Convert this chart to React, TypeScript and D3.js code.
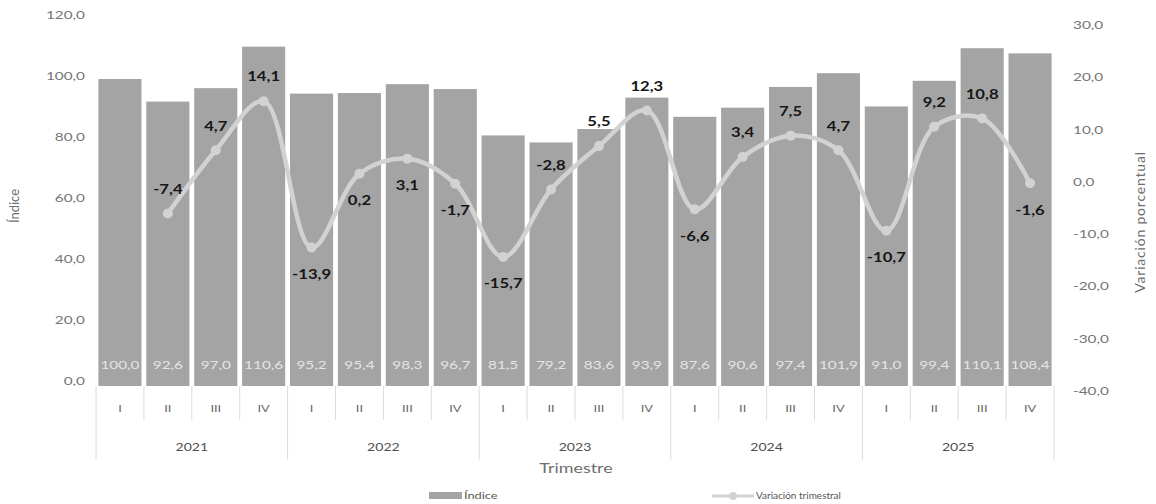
import { useEffect, useRef } from "react";
import * as d3 from "d3";

const years = ["2021", "2022", "2023", "2024", "2025"];
const quarters = ["I", "II", "III", "IV"];
const indice = [100.0, 92.6, 97.0, 110.6, 95.2, 95.4, 98.3, 96.7, 81.5, 79.2, 83.6, 93.9, 87.6, 90.6, 97.4, 101.9, 91.0, 99.4, 110.1, 108.4];
const variacion: (number | null)[] = [null, -7.4, 4.7, 14.1, -13.9, 0.2, 3.1, -1.7, -15.7, -2.8, 5.5, 12.3, -6.6, 3.4, 7.5, 4.7, -10.7, 9.2, 10.8, -1.6];
// which variation labels sit under their point
const labelBelow = [false, false, false, false, true, true, true, true, true, false, false, false, true, false, false, false, true, false, false, true];
const leftTicks = [0, 20, 40, 60, 80, 100, 120];
const rightTicks = [-40, -30, -20, -10, 0, 10, 20, 30];

const FONT = "Lato, 'Open Sans', sans-serif";
const SX = 1.28; // the scanned chart is stretched sideways
const fmt = (v: number) => v.toFixed(1).replace(".", ",");
const at = (x: number, y: number) => `translate(${x},${y}) scale(${SX},1)`;

export default function App() {
  const ref = useRef<SVGSVGElement | null>(null);

  useEffect(() => {
    const width = 1156;
    const height = 504;
    const left = 96;
    const right = 1054;
    const top = 18;
    const base = 384;

    const svg = d3.select(ref.current).attr("width", width).attr("height", height);
    svg.selectAll("*").remove();
    svg.append("rect").attr("width", width).attr("height", height).attr("fill", "#ffffff");

    const cats = years.flatMap((y) => quarters.map((q) => `${y}-${q}`));

    const x = d3.scaleBand().domain(cats).range([left, right]).paddingInner(0.1).paddingOuter(0.05);
    const step = (right - left) / cats.length;
    const yL = d3.scaleLinear().domain([0, 120]).range([base, top]);
    const yR = d3.scaleLinear().domain([-40, 30]).range([base, top]);

    // left axis labels
    svg
      .append("g")
      .selectAll("text")
      .data(leftTicks)
      .enter()
      .append("text")
      .attr("transform", (d) => at(85, yL(d) - 2))
      .attr("text-anchor", "end")
      .attr("dominant-baseline", "middle")
      .attr("font-family", FONT)
      .attr("font-size", 12)
      .attr("fill", "#767676")
      .text((d) => fmt(d));

    // right axis labels (printed a little lower in the source)
    svg
      .append("g")
      .selectAll("text")
      .data(rightTicks)
      .enter()
      .append("text")
      .attr("transform", (d) => at(1073, yR(d) + 8))
      .attr("text-anchor", "start")
      .attr("dominant-baseline", "middle")
      .attr("font-family", FONT)
      .attr("font-size", 12)
      .attr("fill", "#767676")
      .text((d) => fmt(d));

    // bars
    svg
      .append("g")
      .selectAll("rect")
      .data(indice)
      .enter()
      .append("rect")
      .attr("x", (_d, i) => x(cats[i])!)
      .attr("y", (d) => yL(d))
      .attr("width", x.bandwidth())
      .attr("height", (d) => yL(0) - yL(d) + 2)
      .attr("fill", "#a4a4a4");

    // bar value labels
    svg
      .append("g")
      .selectAll("text")
      .data(indice)
      .enter()
      .append("text")
      .attr("transform", (_d, i) => at(x(cats[i])! + x.bandwidth() / 2, base - 15))
      .attr("text-anchor", "middle")
      .attr("font-family", FONT)
      .attr("font-size", 12)
      .attr("fill", "#e4e4e4")
      .text((d) => fmt(d));

    // category table
    const grid = svg.append("g").attr("stroke", "#dcdcdc").attr("stroke-width", 1);
    cats.forEach((_c, i) => {
      const xx = left + i * step;
      const isYear = i % 4 === 0;
      grid
        .append("line")
        .attr("x1", xx)
        .attr("x2", xx)
        .attr("y1", base + 2)
        .attr("y2", isYear ? 460 : 420);
    });
    grid.append("line").attr("x1", right).attr("x2", right).attr("y1", base + 2).attr("y2", 460);

    svg
      .append("g")
      .selectAll("text")
      .data(cats)
      .enter()
      .append("text")
      .attr("transform", (_d, i) => at(left + (i + 0.5) * step, 409))
      .attr("text-anchor", "middle")
      .attr("dominant-baseline", "middle")
      .attr("font-family", FONT)
      .attr("font-size", 10)
      .attr("fill", "#666666")
      .text((d) => d.split("-")[1]);

    svg
      .append("g")
      .selectAll("text")
      .data(years)
      .enter()
      .append("text")
      .attr("transform", (_d, i) => at(left + (i * 4 + 2) * step, 448))
      .attr("text-anchor", "middle")
      .attr("dominant-baseline", "middle")
      .attr("font-family", FONT)
      .attr("font-size", 11)
      .attr("fill", "#505050")
      .text((d) => d);

    // variation line
    const pts = variacion
      .map((v, i) => ({ v, i }))
      .filter((p): p is { v: number; i: number } => p.v !== null);
    const cx = (i: number) => x(cats[i])! + x.bandwidth() / 2;
    const line = d3
      .line<{ v: number; i: number }>()
      .x((d) => cx(d.i))
      .y((d) => yR(d.v))
      .curve(d3.curveCatmullRom.alpha(0.5));

    svg
      .append("path")
      .datum(pts)
      .attr("d", line)
      .attr("fill", "none")
      .attr("stroke", "#d2d2d2")
      .attr("stroke-width", 4.5)
      .attr("stroke-linecap", "round");

    svg
      .append("g")
      .selectAll("circle")
      .data(pts)
      .enter()
      .append("circle")
      .attr("cx", (d) => cx(d.i))
      .attr("cy", (d) => yR(d.v))
      .attr("r", 5)
      .attr("fill", "#d2d2d2");

    svg
      .append("g")
      .selectAll("text")
      .data(pts)
      .enter()
      .append("text")
      .attr("transform", (d) => at(cx(d.i), yR(d.v) + (labelBelow[d.i] ? 28 : -23)))
      .attr("text-anchor", "middle")
      .attr("dominant-baseline", "middle")
      .attr("font-family", FONT)
      .attr("font-size", 13)
      .attr("font-weight", "bold")
      .attr("fill", "#161616")
      .text((d) => fmt(d.v));

    // axis titles
    svg
      .append("text")
      .attr("transform", "translate(16, 206) rotate(-90)")
      .attr("text-anchor", "middle")
      .attr("dominant-baseline", "middle")
      .attr("font-family", FONT)
      .attr("font-size", 13)
      .attr("fill", "#6e6e6e")
      .text("Índice");

    svg
      .append("text")
      .attr("transform", "translate(1141, 222) rotate(-90)")
      .attr("text-anchor", "middle")
      .attr("dominant-baseline", "middle")
      .attr("font-family", FONT)
      .attr("font-size", 14)
      .attr("letter-spacing", 0.8)
      .attr("fill", "#6e6e6e")
      .text("Variación porcentual");

    svg
      .append("text")
      .attr("transform", at(576, 469))
      .attr("text-anchor", "middle")
      .attr("dominant-baseline", "middle")
      .attr("font-family", FONT)
      .attr("font-size", 14)
      .attr("fill", "#6e6e6e")
      .text("Trimestre");

    // legend
    const lg = svg.append("g").attr("font-family", FONT).attr("font-size", 10).attr("fill", "#555555");
    lg.append("rect").attr("x", 429).attr("y", 492).attr("width", 33).attr("height", 7).attr("fill", "#a4a4a4");
    lg.append("text").attr("transform", at(464, 496)).attr("dominant-baseline", "middle").text("Índice");
    lg.append("line").attr("x1", 712).attr("x2", 754).attr("y1", 496).attr("y2", 496).attr("stroke", "#d2d2d2").attr("stroke-width", 3);
    lg.append("circle").attr("cx", 733).attr("cy", 496).attr("r", 4).attr("fill", "#d2d2d2");
    lg.append("text").attr("x", 756).attr("y", 496).attr("dominant-baseline", "middle").text("Variación trimestral");
  }, []);

  return <svg ref={ref} style={{ position: "absolute", left: 0, top: 0, display: "block" }} />;
}
